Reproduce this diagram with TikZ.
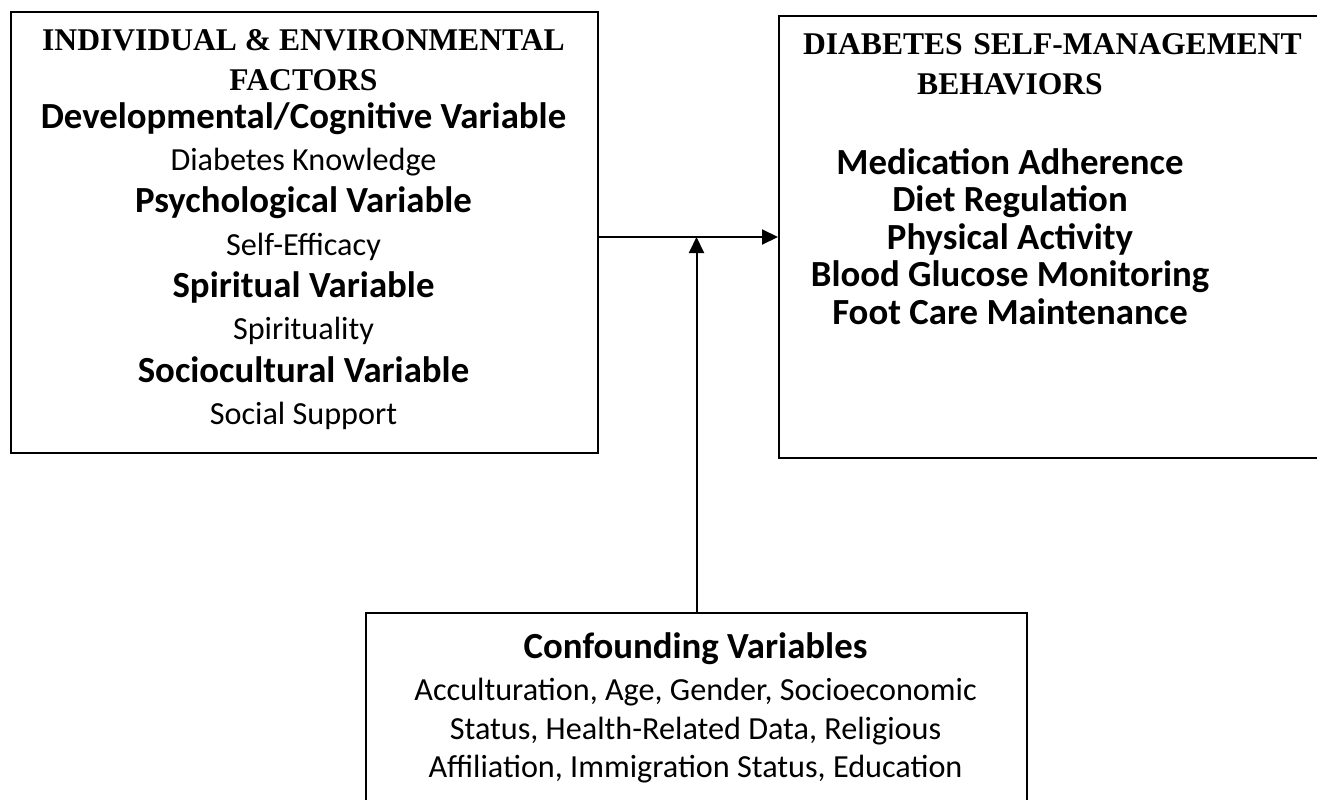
\documentclass[tikz,border=0pt]{standalone}
\usepackage{fontspec}
\setmainfont{Liberation Serif}
\newfontfamily\calibri{Carlito}
\usetikzlibrary{arrows.meta,positioning}

\begin{document}
\begin{tikzpicture}[
    x=1pt, y=-1pt,
    panel/.style={rectangle, draw, line width=2pt, inner sep=0pt},
    headtext/.style={font=\fontsize{31.6}{40}\selectfont\bfseries, align=center, inner sep=0pt},
    bodytext/.style={font=\calibri\fontsize{32.2}{42.3}\selectfont, align=center, inner sep=0pt},
    arrow/.style={->, >={Triangle[length=16pt, width=15pt]}, line width=2pt}
  ]
  \useasboundingbox (0,0) rectangle (1317,800);

  % Boxes
  \node[panel, anchor=north west, minimum width=587pt, minimum height=441pt] (factors) at (10,11) {};
  \node[panel, anchor=north west, minimum width=560pt, minimum height=442pt] (behaviors) at (778,15) {};
  \node[panel, anchor=north west, minimum width=661pt, minimum height=200pt] (confounders) at (365,612) {};

  % Individual & environmental factors
  \node[headtext, anchor=north] (factorshead) at (303.5,29) {INDIVIDUAL \& ENVIRONMENTAL\\FACTORS};
  \node[bodytext, anchor=north] (factorsbody) at (303.5,102.3) {%
    {\bfseries\fontsize{36.8}{42.3}\selectfont Developmental/Cognitive Variable}\\
    Diabetes Knowledge\\
    {\bfseries\fontsize{36.8}{42.3}\selectfont Psychological Variable}\\
    Self-Efficacy\\
    {\bfseries\fontsize{36.8}{42.3}\selectfont Spiritual Variable}\\
    Spirituality\\
    {\bfseries\fontsize{36.8}{42.3}\selectfont Sociocultural Variable}\\
    Social Support};

  % Self-management behaviors
  \node[headtext, anchor=north, text width=414pt] (behaviorshead) at (1010,33) {\mbox{DIABETES SELF-MANAGEMENT}\\BEHAVIORS};
  \node[bodytext, anchor=north, font=\calibri\bfseries\fontsize{36.8}{37.5}\selectfont] (behaviorsbody) at (1010,148.3) {%
    Medication Adherence\\
    Diet Regulation\\
    Physical Activity\\
    Blood Glucose Monitoring\\
    Foot Care Maintenance};

  % Confounding variables
  \node[bodytext, anchor=north, font=\calibri\fontsize{32.2}{38.5}\selectfont] (confoundersbody) at (695.5,632) {%
    {\bfseries\fontsize{36.8}{38.5}\selectfont Confounding Variables}\\[4pt]
    Acculturation, Age, Gender, Socioeconomic\\
    Status, Health-Related Data, Religious\\
    Affiliation, Immigration Status, Education};

  % Arrows
  \coordinate (join) at (confounders.north |- behaviors.west);
  \draw[arrow] (factors.east |- behaviors.west) -- (behaviors.west);
  \draw[arrow] (confounders.north) -- (join);
\end{tikzpicture}
\end{document}
